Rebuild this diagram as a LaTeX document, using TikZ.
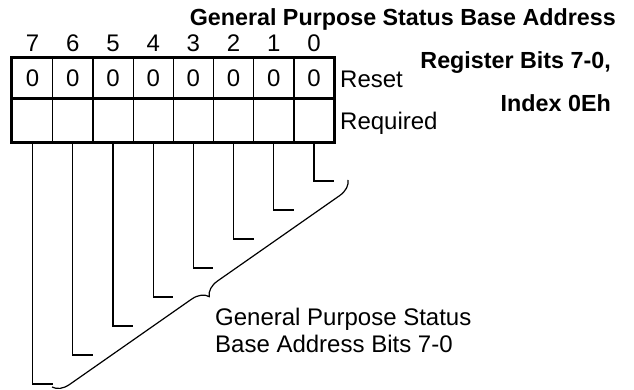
\documentclass[tikz,border=0pt]{standalone}
\usepackage{fontspec}
\setmainfont{Liberation Sans}
\usetikzlibrary{decorations.pathreplacing}
\begin{document}
\begin{tikzpicture}[x=1pt,y=1pt,font=\fontsize{24}{27}\selectfont,
	cell/.style={draw,line width=1.2pt,minimum width=40.2pt,inner sep=0pt},
	bitno/.style={anchor=base,inner sep=0pt},
	lead/.style={line width=1.2pt},
	lbl/.style={anchor=base west,inner sep=0pt},
	ttl/.style={anchor=base east,inner sep=0pt,font=\fontsize{23.3}{27}\selectfont\bfseries}]
	\useasboundingbox (0,0) rectangle (634,-390);
	\foreach \k in {0,...,7} {
		\pgfmathtruncatemacro\b{7-\k}
		\node[cell,minimum height=40pt] (r\b) at ({32.6+40.2*\k},-78) {0};
		\node[cell,minimum height=44pt] (q\b) at ({32.6+40.2*\k},-120) {};
		\node[bitno] (n\b) at ({32.6+40.2*\k},-52) {\b};
		\coordinate (e\b) at ({52.6+40.2*\k},{-384+29*\k});
		\draw[lead] (q\b.south) |- (e\b);
	}
	\draw[line width=3pt] (r7.north west) rectangle (q0.south east);
	\draw[line width=3pt] (r7.south west) -- (r0.south east);
	\node[lbl] (reset) at (340,-88) {Reset};
	\node[lbl] (req) at (340,-130) {Required};
	% title
	\node[ttl] (t1) at (616,-26) {General Purpose Status Base Address};
	\node[ttl] (t2) at (611,-69) {Register Bits 7-0,};
	\node[ttl] (t3) at (611,-112) {Index 0Eh};
	% brace
	\coordinate (bt) at (348,-180);
	\coordinate (bb) at (52,-387);
	\draw[decorate,decoration={brace,amplitude=16pt,aspect=0.5},line width=1.2pt] (bt) -- (bb);
	\node[anchor=north west,inner sep=0pt,align=left] (gpsb) at (215,-308) {General Purpose Status\\Base Address Bits 7-0};
\end{tikzpicture}
\end{document}
